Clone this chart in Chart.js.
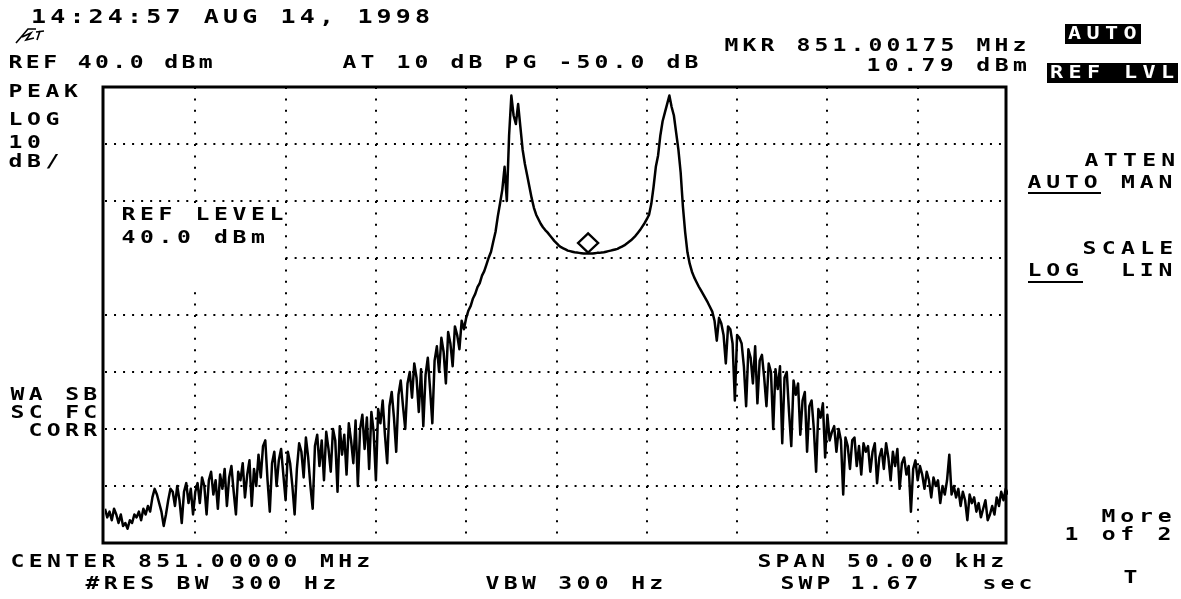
<!DOCTYPE html>
<html><head><meta charset="utf-8">
<script src="https://cdn.jsdelivr.net/npm/chart.js@4.4.1/dist/chart.umd.min.js"></script>
<style>html,body{margin:0;padding:0;background:#fff;overflow:hidden}canvas{display:block}</style>
</head><body>
<canvas id="c" width="1181" height="599"></canvas>
<script>
// ---- data ----
const SPAN_START_KHZ = -25;
const SPAN_STOP_KHZ = 25;
const REF_LEVEL_DBM = 40;
const BOTTOM_LEVEL_DBM = -40;
const X_GRID_KHZ = [-20, -15, -10, -5, 0, 5, 10, 15, 20];
const Y_GRID_DBM = [30, 20, 10, 0, -10, -20, -30];
const MARKER_KHZ = 1.75;
const MARKER_DBM = 10.79;
const TRACE_DBM = [
  -34,-35.5,-34.5,-36,-34,-35,-36.5,-35,-37,-36.5,-37.5,-36,-36.5,-35,-35.5,-34.5,-36,-34,-35,-33.5,-34.5,
  -32,-30.5,-31.5,-33,-34.5,-37,-35,-32.5,-30.5,-31,-33.5,-30,-32.5,-36.5,-31,-29.5,-33,-30.5,-35,-31,-29.5,
  -33,-28.5,-30,-35,-29,-27.5,-31.5,-29,-34,-28,-30.5,-27,-33.5,-28.5,-26.5,-31,-35,-27.5,-29,-26,
  -32,-28,-25.5,-33.5,-27,-30,-24.5,-28.5,-23,-22,-29,-34.5,-26,-24,-30,-25.5,-23.5,-28,-32.5,-24,
  -26,-30,-35,-27,-22.5,-24,-28.5,-21.5,-25,-30,-34,-23,-21,-26.5,-22,-29,-20.5,-23.5,-27.5,-20,
  -22,-31,-19.5,-24.5,-21,-28,-19,-22,-26,-18.5,-30,-20,-17.5,-23.5,-18,-27,-17,-20.5,-29,-16.5,
  -19,-15,-21,-26,-16,-13.5,-18,-24,-14,-11.5,-16,-20,-12,-10,-14.5,-8.5,-11,-17,-9.5,-19.5,
  -10.5,-7.5,-13,-19,-8,-5.5,-10,-4,-6.5,-12,-3,-5,-9,-2,-3.5,-6,-1,-2.5,-0.5,
  0.8,1.6,2.9,3.7,4.9,5.6,6.9,7.7,8.9,10.1,11.1,12.9,14.6,17.3,19.6,22,
  26,20,31.5,38.5,35,33.5,37,33,29,26.5,24.5,22.5,20.5,18.8,17.6,16.8,16,15.4,
  14.9,14.5,14.0,13.5,13.0,12.6,12.2,11.9,11.7,11.5,11.3,11.2,11.1,11.0,10.95,10.9,10.85,10.8,10.8,10.79,
  10.8,10.8,10.85,10.9,10.9,10.95,11.0,11.1,11.2,11.3,11.4,11.5,11.6,11.8,12.0,12.2,12.5,12.8,13.1,13.5,
  13.9,14.4,14.9,15.5,16.1,16.8,17.6,
  19.5,22.5,26,28,31.5,34,35.5,37,38.5,36.5,35,32,29,25,19,14.5,11,9,7.6,6.6,5.8,5,4.3,3.6,
  2.9,2.2,1.4,0.6,-1,-4.5,-0.5,-1.5,-3.5,-8.5,-2,-2.5,-5,-15,-3.5,-4,
  -5,-9,-16,-6,-7.5,-12,-5.5,-15.5,-8,-7,-11,-16,-8.5,-10,-20,-9.5,-13,-9,-22.5,-11,
  -10,-17,-23,-11.5,-14,-12,-21,-15,-13.5,-24,-16,-15,-20,-27.5,-16.5,-18,-15.5,-25,-17.5,-22,
  -20.5,-19.5,-24,-20,-22,-31.5,-21.5,-23,-27,-22,-21.5,-26.5,-23,-28,-22.5,-24,-23,-27.5,-24,-22.5,
  -29.5,-25,-23.5,-27,-22.5,-25,-29,-24,-26.5,-23.5,-30.5,-26,-25,-28,-26.5,-34.5,-27,-25.5,-29,-26.5,
  -28,-30.5,-27.5,-29,-32,-28.5,-30,-29,-33,-30,-31.5,-29,-24.5,-31.5,-30,-32,-30.5,-33.5,-31,-32.5,
  -36,-31.5,-33,-32,-34.5,-33,-35.5,-34,-32.5,-36,-35,-33.5,-35,-32,-33.5,-31,-32.5,-30.5,-31.5
];
// sweep points are evenly spaced across the span
const SWEEP_KHZ = TRACE_DBM.map((_, i) => SPAN_START_KHZ + i * (SPAN_STOP_KHZ - SPAN_START_KHZ) / (TRACE_DBM.length - 1));

// ---- annotation texts (string, x, y, pitch, size) ----
const TEXTS = [
  ["14:24:57 AUG 14, 1998", 32, 18, 19.2, 19.5],
  ["REF 40.0 dBm", 9, 63, 17.3, 18],
  ["AT 10 dB PG -50.0 dB", 343, 63, 18, 18],
  ["MKR 851.00175 MHz", 725, 46, 18, 18],
  ["10.79 dBm", 867, 66, 18.3, 18],
  ["PEAK", 9, 92, 18.5, 18],
  ["LOG", 9, 120, 18.5, 18],
  ["10", 9, 143, 18.5, 18],
  ["dB/", 9, 162, 18.5, 18],
  ["REF LEVEL", 122, 215, 18.5, 18],
  ["40.0 dBm", 122, 238, 18.5, 18],
  ["WA SB", 11, 395, 18.2, 18],
  ["SC FC", 11, 413, 18.2, 18],
  ["CORR", 29, 431, 18.2, 18],
  ["CENTER 851.00000 MHz", 11, 562, 18.2, 18],
  ["#RES BW 300 Hz", 86, 584, 18.2, 18],
  ["VBW 300 Hz", 486, 584, 18.2, 18],
  ["SPAN 50.00 kHz", 758, 562, 17.9, 18],
  ["SWP", 781, 584, 18, 18],
  ["1.67", 851, 584, 18, 18],
  ["sec", 983, 584, 18, 18],
  ["ATTEN", 1085, 161, 19.2, 18],
  ["AUTO MAN", 1028, 183, 18.7, 18],
  ["SCALE", 1083, 249, 19.2, 18],
  ["LOG  LIN", 1028, 271, 18.7, 18],
  ["More", 1102, 517, 18.7, 18],
  ["1 of 2", 1065, 535, 18.6, 18],
  ["T", 1124, 578, 18, 18]
];
const INVERSE = [
  ["AUTO", 1065, 24, 76, 20, 18.5],
  ["REF LVL", 1047, 63, 131, 20, 18.5]
];

function monoText(ctx, str, x0, yc, pitch, size, color) {
  ctx.save();
  ctx.font = 'bold ' + size + 'px "DejaVu Sans Mono"';
  ctx.textAlign = 'center';
  ctx.textBaseline = 'middle';
  ctx.fillStyle = color;
  for (let k = 0; k < str.length; k++) {
    const ch = str[k];
    if (ch === ' ') continue;
    ctx.save();
    ctx.translate(x0 + k * pitch + 6.5, yc);
    ctx.scale(1.28, 1);
    ctx.fillText(ch, 0, 0);
    ctx.restore();
  }
  ctx.restore();
}

const analyzerPlugin = {
  id: 'analyzer',
  beforeDatasetsDraw(chart) {
    const ctx = chart.ctx;
    const a = chart.chartArea;
    ctx.save();
    ctx.fillStyle = '#fff';
    ctx.fillRect(a.left - 1, 204, 286 - a.left, 86);
    ctx.restore();
  },
  afterDatasetsDraw(chart) {
    const ctx = chart.ctx;
    const a = chart.chartArea;
    const xs = chart.scales.x, ys = chart.scales.y;
    const mx = xs.getPixelForValue(MARKER_KHZ);
    const my = ys.getPixelForValue(MARKER_DBM);
    ctx.save();
    ctx.strokeStyle = '#000';
    ctx.lineWidth = 2.4;
    ctx.beginPath();
    ctx.moveTo(mx, my - 1);
    ctx.lineTo(mx + 10, my - 10.5);
    ctx.lineTo(mx, my - 20);
    ctx.lineTo(mx - 10, my - 10.5);
    ctx.closePath();
    ctx.stroke();
    ctx.lineWidth = 3;
    ctx.strokeRect(a.left - 2, a.top, a.right - a.left, a.bottom - a.top);
    ctx.restore();
  },
  afterDraw(chart) {
    const ctx = chart.ctx;
    TEXTS.forEach(t => monoText(ctx, t[0], t[1], t[2], t[3], t[4], '#000'));
    INVERSE.forEach(t => {
      ctx.fillStyle = '#000';
      ctx.fillRect(t[1], t[2], t[3], t[4]);
      monoText(ctx, t[0], t[1] + 3, t[2] + t[4] / 2 + 0.5, t[5], 17, '#fff');
    });
    ctx.save();
    ctx.strokeStyle = '#000';
    ctx.lineWidth = 2;
    ctx.beginPath();
    ctx.moveTo(1028, 193); ctx.lineTo(1101, 193);
    ctx.moveTo(1028, 282); ctx.lineTo(1083, 282);
    ctx.stroke();
    ctx.lineWidth = 1.6;
    ctx.beginPath();
    ctx.moveTo(16, 43); ctx.lineTo(28, 29); ctx.lineTo(36, 29);
    ctx.moveTo(22, 37); ctx.lineTo(31, 33); ctx.lineTo(26, 40); ctx.lineTo(34, 38);
    ctx.moveTo(36, 32); ctx.lineTo(44, 31); ctx.moveTo(40, 31); ctx.lineTo(37, 40);
    ctx.stroke();
    ctx.restore();
  }
};

new Chart(document.getElementById('c'), {
  type: 'line',
  data: {
    datasets: [{
      data: SWEEP_KHZ.map((f, i) => ({ x: f, y: TRACE_DBM[i] })),
      borderColor: '#000',
      borderWidth: 2.5,
      borderJoinStyle: 'round',
      pointRadius: 0,
      tension: 0,
      fill: false
    }]
  },
  options: {
    responsive: false,
    animation: false,
    devicePixelRatio: 1,
    events: [],
    layout: { padding: { left: 105, right: 1181 - 1008, top: 87, bottom: 599 - 543 } },
    plugins: { legend: { display: false }, tooltip: { enabled: false } },
    scales: {
      x: {
        type: 'linear', min: SPAN_START_KHZ, max: SPAN_STOP_KHZ,
        afterBuildTicks: s => { s.ticks = X_GRID_KHZ.map(v => ({ value: v })); },
        ticks: { display: false },
        grid: { color: '#000', lineWidth: 2, drawTicks: false },
        border: { display: false, dash: [2, 9.4] }
      },
      y: {
        type: 'linear', min: BOTTOM_LEVEL_DBM, max: REF_LEVEL_DBM,
        afterBuildTicks: s => { s.ticks = Y_GRID_DBM.map(v => ({ value: v })); },
        ticks: { display: false },
        grid: { color: '#000', lineWidth: 2, drawTicks: false },
        border: { display: false, dash: [2, 7.03] }
      }
    }
  },
  plugins: [analyzerPlugin]
});
</script>
</body></html>
